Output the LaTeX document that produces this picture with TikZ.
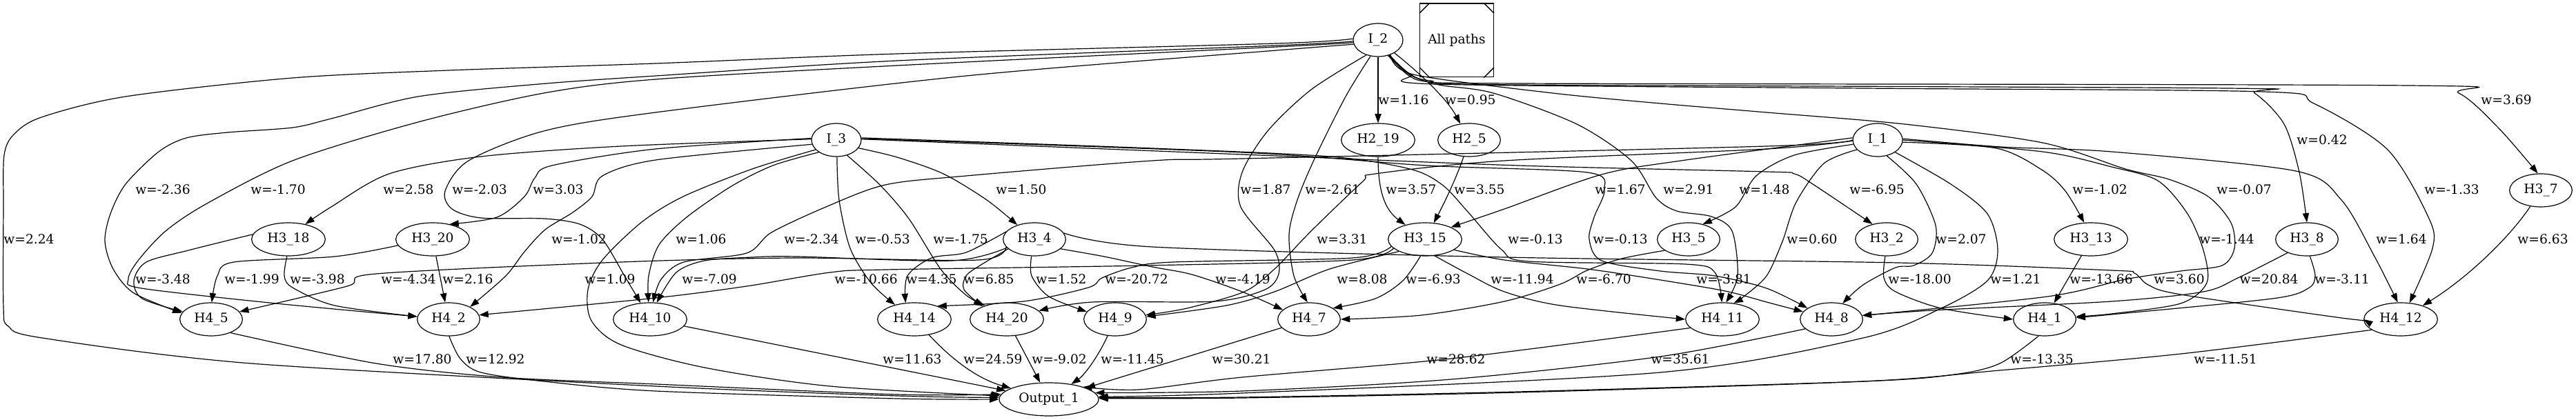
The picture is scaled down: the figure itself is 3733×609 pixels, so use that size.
\documentclass[tikz,border=0pt]{standalone}
\usepackage{fontspec}
\setmainfont{DejaVu Serif}
\usetikzlibrary{shapes.geometric,arrows.meta}
\begin{document}
\begin{tikzpicture}[x=0.75pt,y=-0.75pt,
  every node/.style={font=\fontsize{14pt}{17pt}\selectfont},
  nd/.style={ellipse,draw,line width=0.9pt,inner sep=0pt,minimum height=36pt},
  n3/.style={nd,minimum width=54pt},
  n4/.style={nd,minimum width=68pt},
  n5/.style={nd,minimum width=80pt},
  e/.style={line width=0.9pt,-{Triangle[length=10pt,width=7pt]}},
  lb/.style={inner sep=0pt}]
\useasboundingbox (0,0) rectangle (3733,609);
% nodes
\node[n3] (I2) at (1997,58) {I\_2};
\node[draw,line width=1pt,minimum width=80pt,minimum height=80pt,inner sep=0pt] (AP) at (2111,58.5) {All paths};
\draw[line width=1pt] ([yshift=-11pt]AP.north west) -- ([xshift=11pt]AP.north west);
\draw[line width=1pt] ([yshift=-11pt]AP.north east) -- ([xshift=-11pt]AP.north east);
\draw[line width=1pt] ([yshift=11pt]AP.south west) -- ([xshift=11pt]AP.south west);
\draw[line width=1pt] ([yshift=11pt]AP.south east) -- ([xshift=-11pt]AP.south east);
\node[n5] (H219) at (1997,203) {H2\_19};
\node[n4] (H25) at (2129,203) {H2\_5};
\node[n3] (I3) at (1212,203) {I\_3};
\node[n3] (I1) at (2721,203) {I\_1};
\node[n5] (H318) at (418,347) {H3\_18};
\node[n5] (H320) at (627,347) {H3\_20};
\node[n4] (H34) at (1499,347) {H3\_4};
\node[n5] (H315) at (2065,347) {H3\_15};
\node[n4] (H35) at (2447,347) {H3\_5};
\node[n4] (H32) at (2734,347) {H3\_2};
\node[n5] (H313) at (3030,347) {H3\_13};
\node[n4] (H38) at (3343,347) {H3\_8};
\node[n4] (H37) at (3682,276) {H3\_7};
\node[n4] (H45) at (306,463) {H4\_5};
\node[n4] (H42) at (650,463) {H4\_2};
\node[n5] (H410) at (942,463) {H4\_10};
\node[n5] (H414) at (1325,463) {H4\_14};
\node[n5] (H420) at (1459,463) {H4\_20};
\node[n4] (H49) at (1616,463) {H4\_9};
\node[n4] (H47) at (1897,463) {H4\_7};
\node[n5] (H411) at (2496,463) {H4\_11};
\node[n4] (H48) at (2654,463) {H4\_8};
\node[n4] (H41) at (2963,463) {H4\_1};
\node[n5] (H412) at (3479,463) {H4\_12};
\node[nd,minimum width=108pt] (Out) at (1520,579) {Output\_1};
% ---------- edges from I_2
\draw[e] plot[smooth,tension=0.5] coordinates {(I2.177) (1850,63) (1300,78) (950,92) (650,102) (424,113) (182,140) (60,170) (20,195) (6,225) (5,300) (5,445) (12,473) (61,490) (364,527) (950,560) (1300,574) (Out.178)};
\draw[e] plot[smooth,tension=0.5] coordinates {(I2.183) (1850,66) (1300,88) (950,110) (780,122) (606,140) (480,172) (424,185) (330,192) (270,200) (230,220) (182,267) (160,310) (152,350) (164,390) (194,425) (H45.168)};
\draw[e] plot[smooth,tension=0.5] coordinates {(I2.186) (1850,68) (1300,95) (950,115) (788,135) (606,177) (424,233) (300,295) (240,335) (200,378) (186,405) (205,418) (400,440) (H42.175)};
\draw[e] plot[smooth,tension=0.5] coordinates {(I2.190) (1850,73) (1400,110) (950,163) (788,190) (679,233) (645,277) (655,303) (697,316) (788,317) (840,325) (873,347) (905,400) (H410.120)};
\draw[e] (I2) -- (H219);
\draw[e] (I2) .. controls (2050,100) and (2095,140) .. (H25);
\draw[e] plot[smooth,tension=0.5] coordinates {(I2.-56) (2040,105) (2073,117) (2200,121) (3490,124) (3563,135) (3622,187) (H37.100)};
\draw[e] plot[smooth,tension=0.5] coordinates {(I2.-57) (2042,110) (2075,119) (2200,123) (3227,128) (3267,135) (3310,180) (3332,250) (H38.north)};
\draw[e] plot[smooth,tension=0.5] coordinates {(I2.-54) (2044,108) (2080,122) (2700,128) (3280,133) (3353,150) (3460,217) (3520,317) (3525,360) (H412.62)};
\draw[e] plot[smooth,tension=0.5] coordinates {(I2.-115) (1950,140) (1905,230) (1880,290) (1868,340) (1875,400) (H47.95)};
\draw[e] plot[smooth,tension=0.5] coordinates {(I2.-128) (1900,130) (1837,190) (1800,250) (1798,300) (1847,363) (1853,397) (1833,420) (1760,437) (1583,438) (H420.15)};
\draw[e] plot[smooth,tension=0.5] coordinates {(I2.-52) (2042,108) (2085,123) (2164,135) (2285,180) (2364,233) (2400,287) (2430,306) (2480,314) (2510,335) (2518,400) (H411.78)};
\draw[e] plot[smooth,tension=0.5] coordinates {(I2.-50) (2048,108) (2250,135) (2406,150) (2560,163) (2760,180) (2960,207) (3080,245) (3143,260) (3200,285) (3233,323) (3238,360) (3220,385) (3160,393) (3080,405) (2967,430) (H48.7)};
% ---------- edges from I_3
\draw[e] plot[smooth,tension=0.5] coordinates {(I3.178) (900,212) (697,227) (564,252) (480,300) (H318.42)};
\draw[e] plot[smooth,tension=0.5] coordinates {(I3.176) (950,216) (800,240) (775,258) (760,285) (720,315) (H320.42)};
\draw[e] plot[smooth,tension=0.5] coordinates {(I3.190) (950,232) (873,255) (858,285) (830,308) (790,333) (760,365) (733,400) (H42.30)};
\draw[e] plot[smooth,tension=0.5] coordinates {(I3.215) (1120,240) (1060,270) (995,315) (955,355) (940,400) (H410.95)};
\draw[e] plot[smooth,tension=0.5] coordinates {(I3.205) (1090,245) (990,285) (930,322) (873,377) (852,420) (857,465) (900,500) (1021,533) (1203,560) (Out.176)};
\draw[e] plot[smooth,tension=0.5] coordinates {(I3.-88) (1216,290) (1232,360) (1262,410) (H414.143)};
\draw[e] plot[smooth,tension=0.5] coordinates {(I3.-55) (1275,268) (1317,317) (1363,390) (1400,428) (H420.148)};
\draw[e] plot[smooth,tension=0.5] coordinates {(I3.-20) (1300,228) (1367,252) (1430,290) (H34.140)};
\draw[e] plot[smooth,tension=0.5] coordinates {(I3.5) (1670,215) (1927,227) (2043,245) (2090,268) (2127,307) (2176,362) (2215,379) (2442,383) (2485,395) (H411.92)};
\draw[e] plot[smooth,tension=0.5] coordinates {(I3.3) (1800,221) (2067,240) (2300,250) (2325,275) (2310,315) (2303,347) (2321,378) (2406,393) (2485,400) (2560,418) (H48.155)};
\draw[e] plot[smooth,tension=0.5] coordinates {(I3.2) (1800,224) (2200,240) (2560,249) (2600,252) (2627,267) (H32.133)};
% ---------- edges from I_1
\draw[e] plot[smooth,tension=0.5] coordinates {(I1.190) (2600,225) (2545,255) (2515,300) (H35.47)};
\draw[e] plot[smooth,tension=0.5] coordinates {(I1.205) (2643,237) (2603,293) (2583,350) (2560,400) (2527,430) (H411.55)};
\draw[e] plot[smooth,tension=0.5] coordinates {(I1.-60) (2777,267) (2805,327) (2800,367) (2773,385) (2747,388) (2700,413) (H48.55)};
\draw[e] plot[smooth,tension=0.5] coordinates {(I1.-35) (2827,267) (2880,310) (2895,363) (2880,407) (2813,447) (2700,490) (2406,540) (1800,570) (Out.3)};
\draw[e] plot[smooth,tension=0.5] coordinates {(I1.-5) (2893,215) (2960,247) (2993,277) (H313.112)};
\draw[e] plot[smooth,tension=0.5] coordinates {(I1.3) (2900,213) (3060,220) (3327,248) (3393,290) (3440,370) (H412.100)};
\draw[e] plot[smooth,tension=0.5] coordinates {(I1.0) (2960,220) (3060,242) (3127,262) (3170,310) (3193,363) (3198,410) (3160,440) (3060,455) (H41.5)};
\draw[e] plot[smooth,tension=0.5] coordinates {(I1.175) (2436,233) (2321,253) (2180,303) (H315.25)};
\draw[e] plot[smooth,tension=0.5] coordinates {(I1.180) (2560,212) (1800,230) (1670,233) (1400,255) (1283,268) (1197,300) (1118,337) (1082,367) (991,380) (958,405) (H410.80)};
\draw[e] plot[smooth,tension=0.5] coordinates {(I1.182) (2560,216) (2180,233) (1993,252) (1975,263) (1900,335) (1847,390) (1803,423) (1720,447) (H49.8)};
% ---------- H2 edges
\draw[e] (H219) .. controls (1997,280) and (2008,305) .. (H315);
\draw[e] (H25) .. controls (2110,260) and (2090,300) .. (H315);
% ---------- H3 edges
\draw[e] plot[smooth,tension=0.5] coordinates {(H318.172) (273,363) (212,380) (194,407) (206,433) (H45.165)};
\draw[e] plot[smooth,tension=0.5] coordinates {(H318.-95) (412,400) (424,417) (485,443) (H42.175)};
\draw[e] plot[smooth,tension=0.5] coordinates {(H320.190) (485,372) (339,380) (315,400) (H45.88)};
\draw[e] (H320) -- (H42);
\draw[e] plot[smooth,tension=0.5] coordinates {(H34.195) (1417,377) (1150,374) (900,380) (545,397) (503,415) (H45.15)};
\draw[e] plot[smooth,tension=0.5] coordinates {(H34.197) (1379,378) (1155,372) (1090,373) (1021,378) (980,395) (H410.68)};
\draw[e] plot[smooth,tension=0.5] coordinates {(H34.165) (1400,366) (1350,374) (1315,400) (H414.118)};
\draw[e] plot[smooth,tension=0.5] coordinates {(H34.200) (1420,385) (1400,400) (1397,420) (H420.152)};
\draw[e] plot[smooth,tension=0.5] coordinates {(H34.-100) (1495,400) (1520,430) (H49.165)};
\draw[e] plot[smooth,tension=0.5] coordinates {(H34.-20) (1600,372) (1670,387) (1727,398) (1800,423) (H47.160)};
\draw[e] plot[smooth,tension=0.5] coordinates {(H34.12) (1670,358) (2180,373) (2750,381) (3060,392) (3093,396) (3113,413) (3160,427) (3393,461) (H412.180)};
\draw[e] plot[smooth,tension=0.5] coordinates {(H315.196) (1960,377) (1660,385) (1283,391) (1203,395) (1082,415) (950,432) (H42.8)};
\draw[e] plot[smooth,tension=0.5] coordinates {(H315.192) (1960,374) (1700,380) (1640,388) (1597,403) (1577,417) (1483,437) (H414.30)};
\draw[e] plot[smooth,tension=0.5] coordinates {(H315.205) (1927,390) (1847,423) (1777,443) (H49.5)};
\draw[e] plot[smooth,tension=0.5] coordinates {(H315.-105) (2033,407) (1993,433) (H47.25)};
\draw[e] plot[smooth,tension=0.5] coordinates {(H315.-60) (2127,397) (2180,423) (2261,443) (H411.180)};
\draw[e] plot[smooth,tension=0.5] coordinates {(H315.-20) (2180,377) (2300,390) (2400,405) (2500,422) (2560,438) (H48.165)};
\draw[e] plot[smooth,tension=0.5] coordinates {(H35.205) (2350,375) (2300,392) (2261,412) (2180,437) (2060,457) (H47.0)};
\draw[e] plot[smooth,tension=0.5] coordinates {(H32.-95) (2730,403) (2747,423) (2813,447) (H41.180)};
\draw[e] (H313) -- (H41);
\draw[e] plot[smooth,tension=0.5] coordinates {(H38.215) (3243,403) (3193,423) (3060,437) (2800,450) (H48.7)};
\draw[e] plot[smooth,tension=0.5] coordinates {(H38.-80) (3355,400) (3345,418) (3293,433) (3060,456) (H41.3)};
\draw[e] (H37) .. controls (3640,340) and (3580,400) .. (H412);
% ---------- H4 -> Output
\draw[e] plot[smooth,tension=0.5] coordinates {(H45.-35) (545,527) (727,547) (950,557) (1300,572) (Out.174)};
\draw[e] plot[smooth,tension=0.5] coordinates {(H42.-88) (667,520) (697,540) (788,553) (950,567) (1300,578) (Out.180)};
\draw[e] (H410) -- (Out);
\draw[e] (H414) .. controls (1385,527) and (1420,550) .. (Out);
\draw[e] (H420) -- (Out);
\draw[e] (H49) .. controls (1590,520) and (1570,545) .. (Out);
\draw[e] (H47) -- (Out);
\draw[e] plot[smooth,tension=0.5] coordinates {(H411.-165) (2103,520) (1800,547) (1650,565) (Out.20)};
\draw[e] plot[smooth,tension=0.5] coordinates {(H48.-160) (2406,517) (2103,550) (1800,567) (Out.8)};
\draw[e] plot[smooth,tension=0.5] coordinates {(H41.-110) (2898,527) (2832,543) (2700,553) (2200,568) (1800,576) (Out.2)};
\draw[e] plot[smooth,tension=0.5] coordinates {(H412.-160) (3161,513) (2898,537) (2700,553) (2200,569) (1800,577) (Out.1)};
% ---------- labels
\node[lb] (l01) at (2034,145) {w=1.16};
\node[lb] (l02) at (2131,145) {w=0.95};
\node[lb] (l03) at (3632,145) {w=3.69};
\node[lb] (l04) at (3365,203) {w=0.42};
\node[lb] (l05) at (236,275) {w=-2.36};
\node[lb] (l06) at (403,275) {w=-1.70};
\node[lb] (l07) at (592,275) {w=2.58};
\node[lb] (l08) at (695,275) {w=-2.03};
\node[lb] (l09) at (809,275) {w=3.03};
\node[lb] (l10) at (1480,275) {w=1.50};
\node[lb] (l11) at (1834,275) {w=1.87};
\node[lb] (l12) at (1931,275) {w=-2.61};
\node[lb] (l13) at (2045,275) {w=3.57};
\node[lb] (l14) at (2144,275) {w=3.55};
\node[lb] (l15) at (2348,275) {w=1.67};
\node[lb] (l16) at (2447,275) {w=2.91};
\node[lb] (l17) at (2557,275) {w=1.48};
\node[lb] (l18) at (2720,275) {w=-6.95};
\node[lb] (l19) at (3043,275) {w=-1.02};
\node[lb] (l20) at (3252,275) {w=-0.07};
\node[lb] (l21) at (3553,275) {w=-1.33};
\node[lb] (l22) at (42,347) {w=2.24};
\node[lb] (l23) at (839,347) {w=-1.02};
\node[lb] (l24) at (1016,347) {w=1.06};
\node[lb] (l25) at (1176,347) {w=-2.34};
\node[lb] (l26) at (1279,347) {w=-0.53};
\node[lb] (l27) at (1392,347) {w=-1.75};
\node[lb] (l28) at (1945,347) {w=3.31};
\node[lb] (l29) at (2225,347) {w=-0.13};
\node[lb] (l30) at (2348,347) {w=-0.13};
\node[lb] (l31) at (2626,347) {w=0.60};
\node[lb] (l32) at (2842,347) {w=2.07};
\node[lb] (l33) at (3227,347) {w=-1.44};
\node[lb] (l34) at (3480,347) {w=1.64};
\node[lb] (l35) at (3685,347) {w=6.63};
\node[lb] (l36) at (236,405) {w=-3.48};
\node[lb] (l37) at (365,405) {w=-1.99};
\node[lb] (l38) at (460,405) {w=-3.98};
\node[lb] (l39) at (592,405) {w=-4.34};
\node[lb] (l40) at (678,405) {w=2.16};
\node[lb] (l41) at (884,405) {w=1.09};
\node[lb] (l42) at (1028,405) {w=-7.09};
\node[lb] (l43) at (1255,405) {w=-10.66};
\node[lb] (l44) at (1350,405) {w=4.35};
\node[lb] (l45) at (1433,405) {w=6.85};
\node[lb] (l46) at (1538,405) {w=1.52};
\node[lb] (l47) at (1647,405) {w=-20.72};
\node[lb] (l48) at (1801,405) {w=-4.19};
\node[lb] (l49) at (1974,405) {w=8.08};
\node[lb] (l50) at (2077,405) {w=-6.93};
\node[lb] (l51) at (2206,405) {w=-11.94};
\node[lb] (l52) at (2324,405) {w=-6.70};
\node[lb] (l53) at (2498,405) {w=-3.81};
\node[lb] (l54) at (2782,405) {w=-18.00};
\node[lb] (l55) at (2921,405) {w=1.21};
\node[lb] (l56) at (3045,405) {w=-13.66};
\node[lb] (l57) at (3158,405) {w=3.60};
\node[lb] (l58) at (3288,405) {w=20.84};
\node[lb] (l59) at (3394,405) {w=-3.11};
\node[lb] (l60) at (612,521) {w=17.80};
\node[lb] (l61) at (718,521) {w=12.92};
\node[lb] (l62) at (1322,521) {w=11.63};
\node[lb] (l63) at (1439,521) {w=24.59};
\node[lb] (l64) at (1535,521) {w=-9.02};
\node[lb] (l65) at (1641,521) {w=-11.45};
\node[lb] (l66) at (1799,521) {w=30.21};
\node[lb] (l67) at (2110,521) {w=28.62};
\node[lb] (l68) at (2435,521) {w=35.61};
\node[lb] (l69) at (2959,521) {w=-13.35};
\node[lb] (l70) at (3225,521) {w=-11.51};
\end{tikzpicture}
\end{document}
